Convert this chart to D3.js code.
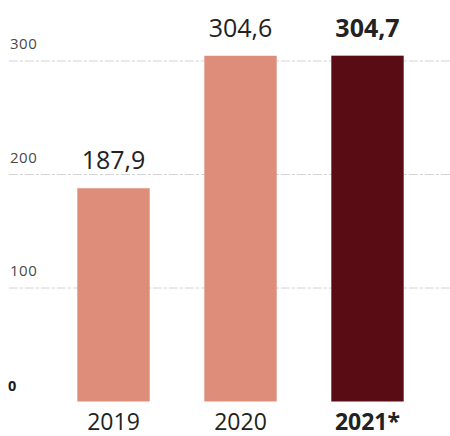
<!DOCTYPE html>
<html lang="es">
<head>
  <meta charset="UTF-8">
  <title>Chart</title>
  <style>
    body { margin: 0; background: #fff; font-family: "Open Sans", sans-serif; }
    #chart { display: block; }
    .val { font-size: 25px; fill: #222; text-anchor: middle; }
    .year { font-size: 23px; fill: #222; text-anchor: middle; }
  </style>
</head>
<body>
  <svg id="chart"></svg>
  <script src="https://d3js.org/d3.v7.min.js"></script>
  <script>
    const categories = ["2019", "2020", "2021*"];
    const values = [187.9, 304.6, 304.7];
    const valueLabels = ["187,9", "304,6", "304,7"];
    const highlight = [false, false, true];
    const ticks = [0, 100, 200, 300];

    const width = 450, height = 436;
    const svg = d3.select("#chart").attr("width", width).attr("height", height);

    const x = d3.scaleBand()
      .domain(categories)
      .range([50, 431])
      .paddingInner(0.43)
      .paddingOuter(0.215);

    const y = d3.scaleLinear()
      .domain([0, 300])
      .range([401.5, 61]);

    // gridlines + tick labels
    const grid = svg.append("g");
    ticks.filter(t => t > 0).forEach(t => {
      grid.append("line")
        .attr("x1", 9).attr("x2", width)
        .attr("y1", y(t)).attr("y2", y(t))
        .attr("stroke", "#d4d4d4")
        .attr("stroke-width", 1)
        .attr("stroke-dasharray", "9,2,3,2");
      grid.append("text")
        .attr("x", 10).attr("y", y(t) - 12)
        .attr("fill", "#4a4a4a")
        .attr("font-size", 15)
        .attr("letter-spacing", "0.5px")
        .text(t);
    });
    grid.append("text")
      .attr("x", 8).attr("y", y(0) - 11)
      .attr("fill", "#1a1a1a")
      .attr("font-size", 14.5)
      .attr("font-weight", "bold")
      .text("0");

    svg.append("g").selectAll("rect")
      .data(values)
      .join("rect")
      .attr("x", (d, i) => x(categories[i]))
      .attr("width", x.bandwidth())
      .attr("y", d => y(d))
      .attr("height", d => y(0) - y(d))
      .attr("fill", (d, i) => highlight[i] ? "#5a0c15" : "#dd8d79");

    svg.append("g").selectAll("text")
      .data(values)
      .join("text")
      .attr("class", "val")
      .attr("x", (d, i) => x(categories[i]) + x.bandwidth() / 2)
      .attr("y", d => y(d) - 19)
      .attr("font-weight", (d, i) => highlight[i] ? "bold" : "normal")
      .text((d, i) => valueLabels[i]);

    svg.append("g").selectAll("text")
      .data(categories)
      .join("text")
      .attr("class", "year")
      .attr("x", d => x(d) + x.bandwidth() / 2)
      .attr("y", 430)
      .attr("font-weight", (d, i) => highlight[i] ? "bold" : "normal")
      .text(d => d);
  </script>
</body>
</html>
